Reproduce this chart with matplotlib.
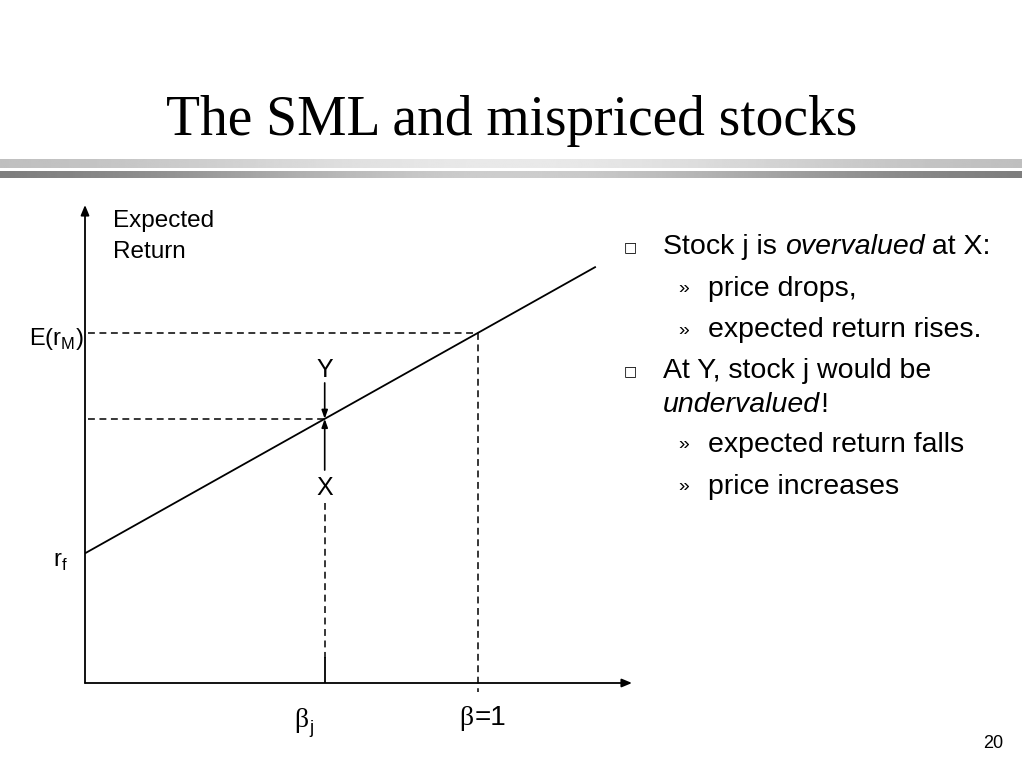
import matplotlib
matplotlib.use("Agg")
import matplotlib.pyplot as plt
import numpy as np

# ---- data ----
rf = 0.05            # risk-free rate (intercept of SML)
E_rM = 0.135         # expected market return
beta_j = 0.61        # beta of stock j
beta_m = 1.0         # market beta
beta_line_end = 1.30 # where SML is drawn to
x_axis_end = 1.392
y_axis_top = 0.1843
Y_start = 0.1157     # arrow from Y down to SML
X_start = 0.0821     # arrow from X up to SML

title = "The SML and mispriced stocks"
bullets = [
    ("main", [("Stock j is ", "normal"), ("overvalued", "italic"), (" at X:", "normal")]),
    ("sub", [("price drops,", "normal")]),
    ("sub", [("expected return rises.", "normal")]),
    ("main", [("At Y, stock j would be", "normal")]),
    ("cont", [("undervalued", "italic"), ("!", "normal")]),
    ("sub", [("expected return falls", "normal")]),
    ("sub", [("price increases", "normal")]),
]
bullet_y = [247, 289, 330, 371, 405, 445, 487]
page_number = "20"

W, H = 1024, 768
fig = plt.figure(figsize=(W / 100, H / 100), dpi=100)
fig.patch.set_facecolor("white")

sans = "Liberation Sans"
serif = "Liberation Serif"
plt.rcParams["mathtext.fontset"] = "custom"
plt.rcParams["mathtext.rm"] = sans

# ---- background decorations (pixel coordinates) ----
bg = fig.add_axes([0, 0, 1, 1], zorder=0)
bg.axis("off")
xs = np.linspace(0, 1, 512)
prof = np.exp(-((xs - 0.5) / 0.32) ** 2)
g1 = (187 + (233 - 187) * prof) / 255
g2 = (118 + (205 - 118) * prof) / 255
bg.imshow(np.tile(g1, (2, 1)), cmap="gray", vmin=0, vmax=1, extent=[0, 1022, 168.5, 160],
          aspect="auto", interpolation="bilinear")
bg.imshow(np.tile(g2, (2, 1)), cmap="gray", vmin=0, vmax=1, extent=[0, 1022, 178.5, 172],
          aspect="auto", interpolation="bilinear")
bg.set_xlim(0, W)
bg.set_ylim(H, 0)

fig.text(512 / W, 1 - 121 / H, title, family=serif, fontsize=40, ha="center", va="center")
fig.text(1003 / W, 1 - 744 / H, page_number, family=sans, fontsize=13, ha="right", va="center")

# ---- chart axes ----
left_px, bottom_px, right_px, top_px = 85, 683, 632, 205
ax = fig.add_axes([left_px / W, 1 - bottom_px / H, (right_px - left_px) / W, (bottom_px - top_px) / H],
                  zorder=1)
ax.set_xlim(0, x_axis_end)
ax.set_ylim(0, y_axis_top)
ax.axis("off")
ax.patch.set_alpha(0)

lw = 1.3
# axes arrows
ax.annotate("", xy=(x_axis_end, 0), xytext=(0, 0),
            arrowprops=dict(arrowstyle="-|>,head_length=0.6,head_width=0.25", lw=lw, color="black",
                            shrinkA=0, shrinkB=0), annotation_clip=False)
ax.annotate("", xy=(0, y_axis_top), xytext=(0, 0),
            arrowprops=dict(arrowstyle="-|>,head_length=0.6,head_width=0.25", lw=lw, color="black",
                            shrinkA=0, shrinkB=0), annotation_clip=False)

# SML
b = np.array([0.0, beta_line_end])
ax.plot(b, rf + b * (E_rM - rf), color="black", lw=lw, solid_capstyle="butt")

dash = (0, (4.5, 3))
E_j = rf + beta_j * (E_rM - rf)
# market dashed lines
ax.plot([0.008, beta_m], [E_rM, E_rM], color="black", lw=1.1, linestyle=dash)
ax.plot([beta_m, beta_m], [E_rM, -0.0035], color="black", lw=1.1, linestyle=dash, clip_on=False)
# stock j dashed lines
ax.plot([0.008, beta_j], [E_j, E_j], color="black", lw=1.1, linestyle=dash)
ax.plot([beta_j, beta_j], [0.0694, 0.0096], color="black", lw=1.1, linestyle=dash)
ax.plot([beta_j, beta_j], [0.0096, 0.0], color="black", lw=lw)

# Y and X arrows
for ys in (Y_start, X_start):
    ax.annotate("", xy=(beta_j, E_j), xytext=(beta_j, ys),
                arrowprops=dict(arrowstyle="-|>,head_length=0.5,head_width=0.18", lw=1.2,
                                color="black", shrinkA=0, shrinkB=0))

lab = dict(family=sans, fontsize=18, ha="center", va="center")
ax.text(beta_j, Y_start + 0.0050, "Y", **lab)
ax.text(beta_j, X_start - 0.0069, "X", **lab)

ax.text(0.072, 0.1822, "Expected\nReturn", family=sans, fontsize=17.5, ha="left", va="top",
        linespacing=1.5)
ax.text(-0.004, E_rM - 0.0025, r"E(r$_\mathregular{M}$)", family=sans, fontsize=17,
        ha="right", va="center")
ax.text(-0.045, rf - 0.0035, r"r$_\mathregular{f}$", family=sans, fontsize=17,
        ha="right", va="center")

# beta labels: serif beta, sans remainder
fig.canvas.draw()
renderer = fig.canvas.get_renderer()
tb = ax.text(beta_j - 0.06, -0.0143, "β", family=serif, fontsize=20, ha="center", va="center",
             clip_on=False)
bbx = tb.get_window_extent(renderer)
fig.text((bbx.x1 + 1) / W, (bbx.y0 + 4) / H, "j", family=sans, fontsize=13, ha="left",
         va="center")
tb2 = ax.text(beta_m - 0.029, -0.0135, "β", family=serif, fontsize=20, ha="center", va="center",
              clip_on=False)
bbx2 = tb2.get_window_extent(renderer)
fig.text((bbx2.x1 + 1) / W, (bbx2.y0 + bbx2.y1) / 2 / H, "=1", family=sans, fontsize=20,
         ha="left", va="center")

# ---- right-hand text ----
fs = 20.5
for (kind, parts), py in zip(bullets, bullet_y):
    yf = 1 - py / H
    if kind == "main":
        fig.text(630 / W, yf, "□", family="DejaVu Sans", fontsize=10, ha="center", va="center")
        x0 = 663
    elif kind == "cont":
        x0 = 663
    else:
        fig.text(684 / W, yf, "»", family=sans, fontsize=14, ha="center", va="center")
        x0 = 708
    x = x0
    for txt, style in parts:
        t = fig.text(x / W, yf, txt, family=sans, fontsize=fs, style=style, ha="left",
                     va="center")
        bb = t.get_window_extent(renderer)
        x += bb.width

fig.savefig("out.png", dpi=100)
